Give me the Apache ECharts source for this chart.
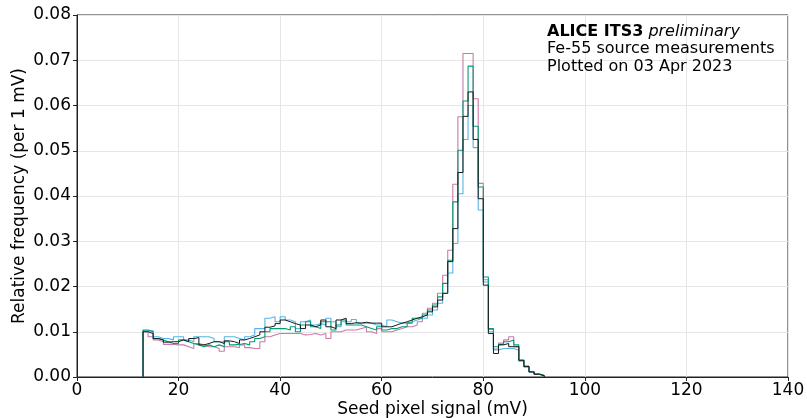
<!DOCTYPE html>
<html>
<head>
<meta charset="utf-8">
<script src="https://cdn.jsdelivr.net/npm/echarts@6/dist/echarts.min.js"></script>
<style>
html,body{margin:0;padding:0;background:#fff;}
#c{width:807px;height:418px;}
</style>
</head>
<body>
<div id="c"></div>
<script>
// Histogram bins: left edges start at firstEdge, width 1 mV
const firstEdge = 13;
const binWidth = 1;
const xTicks = [0, 20, 40, 60, 80, 100, 120, 140];
const yTicks = [0.00, 0.01, 0.02, 0.03, 0.04, 0.05, 0.06, 0.07, 0.08];

const seriesBlack = [
0.0100,0.0096,0.0085,0.0082,0.0077,0.0078,0.0078,0.0082,0.0078,0.0085,
0.0087,0.0071,0.0074,0.0078,0.0078,0.0074,0.0080,0.0078,0.0074,0.0082,
0.0085,0.0089,0.0093,0.0100,0.0110,0.0113,0.0118,0.0126,0.0122,0.0118,
0.0115,0.0107,0.0115,0.0111,0.0115,0.0126,0.0111,0.0107,0.0126,0.0130,
0.0118,0.0120,0.0119,0.0121,0.0119,0.0119,0.0119,0.0111,0.0111,0.0115,
0.0119,0.0122,0.0126,0.0130,0.0133,0.0137,0.0144,0.0155,0.0170,0.0185,
0.0255,0.0328,0.0452,0.0576,0.0630,0.0525,0.0394,0.0203,0.0096,0.0052,
0.0071,0.0074,0.0067,0.0067,0.0037,0.0023,0.0011,0.0006,0.0003];

const seriesGreen = [
0.0104,0.0100,0.0085,0.0082,0.0078,0.0074,0.0074,0.0082,0.0078,0.0074,
0.0071,0.0067,0.0071,0.0067,0.0071,0.0067,0.0078,0.0071,0.0072,0.0074,
0.0071,0.0078,0.0085,0.0089,0.0100,0.0107,0.0107,0.0107,0.0104,0.0111,
0.0100,0.0115,0.0122,0.0111,0.0107,0.0122,0.0122,0.0104,0.0115,0.0126,
0.0115,0.0115,0.0115,0.0111,0.0107,0.0104,0.0111,0.0104,0.0107,0.0107,
0.0111,0.0111,0.0119,0.0130,0.0130,0.0137,0.0148,0.0159,0.0177,0.0207,
0.0258,0.0387,0.0501,0.0610,0.0687,0.0554,0.0420,0.0221,0.0107,0.0067,
0.0072,0.0078,0.0082,0.0071,0.0037,0.0024,0.0012,0.0007,0.0003];

const seriesBlue = [
0.0102,0.0102,0.0089,0.0085,0.0085,0.0082,0.0089,0.0089,0.0082,0.0078,
0.0089,0.0089,0.0089,0.0085,0.0078,0.0078,0.0089,0.0089,0.0085,0.0082,
0.0089,0.0093,0.0107,0.0107,0.0130,0.0133,0.0122,0.0133,0.0126,0.0122,
0.0107,0.0122,0.0126,0.0115,0.0118,0.0115,0.0130,0.0122,0.0111,0.0122,
0.0122,0.0127,0.0119,0.0119,0.0119,0.0115,0.0115,0.0111,0.0126,0.0122,
0.0119,0.0119,0.0122,0.0126,0.0130,0.0130,0.0137,0.0148,0.0163,0.0185,
0.0230,0.0295,0.0405,0.0525,0.0600,0.0507,0.0369,0.0210,0.0100,0.0060,
0.0063,0.0063,0.0063,0.0059,0.0035,0.0022,0.0011,0.0006,0.0003];

const seriesPink = [
0.0100,0.0089,0.0082,0.0078,0.0072,0.0072,0.0071,0.0071,0.0067,0.0063,
0.0074,0.0071,0.0067,0.0067,0.0063,0.0057,0.0067,0.0067,0.0065,0.0071,
0.0065,0.0063,0.0063,0.0078,0.0089,0.0093,0.0096,0.0096,0.0096,0.0096,
0.0096,0.0093,0.0094,0.0096,0.0093,0.0096,0.0085,0.0100,0.0100,0.0104,
0.0104,0.0104,0.0107,0.0110,0.0100,0.0096,0.0107,0.0100,0.0100,0.0104,
0.0107,0.0111,0.0111,0.0115,0.0122,0.0141,0.0152,0.0163,0.0185,0.0225,
0.0280,0.0426,0.0575,0.0715,0.0715,0.0615,0.0428,0.0215,0.0105,0.0062,
0.0075,0.0082,0.0089,0.0067,0.0037,0.0023,0.0011,0.0006,0.0003];

function stepData(vals) {
  const pts = [[firstEdge, 0]];
  vals.forEach((v, i) => pts.push([firstEdge + i * binWidth, v]));
  pts.push([firstEdge + vals.length * binWidth, 0]);
  return pts;
}

const FONT = 'DejaVu Sans';
const chart = echarts.init(document.getElementById('c'), null, {renderer: 'canvas'});

function histSeries(name, vals, color, w) {
  return {
    name: name, type: 'line', step: 'end', data: stepData(vals),
    showSymbol: false, symbol: 'none', animation: false,
    lineStyle: {color: color, width: w}, z: 3
  };
}

chart.setOption({
  animation: false,
  backgroundColor: '#fff',
  grid: {left: 77, right: 19, top: 15, bottom: 41, show: true, borderColor: '#222', borderWidth: 1,
    backgroundColor: 'transparent', containLabel: false, outerBoundsMode: 'none'},
  xAxis: {
    type: 'value', min: xTicks[0], max: xTicks[xTicks.length - 1], interval: 20,
    name: 'Seed pixel signal (mV)', nameLocation: 'middle', nameGap: 24, nameMoveOverlap: false,
    nameTextStyle: {fontFamily: FONT, fontSize: 17, color: '#000'},
    axisLine: {show: true, lineStyle: {color: '#222', width: 1}},
    axisTick: {show: true, inside: false, length: 4, lineStyle: {color: '#222'}},
    axisLabel: {fontFamily: FONT, fontSize: 17, color: '#000', margin: 5},
    splitLine: {show: true, lineStyle: {color: '#e6e6e6', width: 1}}
  },
  yAxis: {
    type: 'value', min: yTicks[0], max: yTicks[yTicks.length - 1], interval: 0.01,
    name: 'Relative frequency (per 1 mV)', nameLocation: 'middle', nameGap: 49, nameMoveOverlap: false,
    nameTextStyle: {fontFamily: FONT, fontSize: 17, color: '#000'},
    axisLine: {show: true, lineStyle: {color: '#222', width: 1}},
    axisTick: {show: true, inside: false, length: 4, lineStyle: {color: '#222'}},
    axisLabel: {fontFamily: FONT, fontSize: 17, color: '#000', margin: 6,
      formatter: v => v.toFixed(2)},
    splitLine: {show: true, lineStyle: {color: '#e6e6e6', width: 1}}
  },
  graphic: [{
    type: 'text', left: 547, top: 23, z: 10,
    style: {
      text: '{b|ALICE ITS3} {i|preliminary}\nFe-55 source measurements\nPlotted on 03 Apr 2023',
      font: '16px "DejaVu Sans"', fill: '#000', lineHeight: 17.5,
      rich: {
        b: {fontFamily: FONT, fontSize: 16, fontWeight: 'bold', fill: '#000', lineHeight: 17.5},
        i: {fontFamily: FONT, fontSize: 16, fontStyle: 'italic', fill: '#000', lineHeight: 17.5}
      }
    }
  }],
  series: [
    histSeries('pink', seriesPink, '#CC79A7', 1.1),
    histSeries('blue', seriesBlue, '#56B4E9', 1.1),
    histSeries('green', seriesGreen, '#009E73', 1.1),
    histSeries('black', seriesBlack, '#1a1a1a', 1.0)
  ]
});
</script>
</body>
</html>
